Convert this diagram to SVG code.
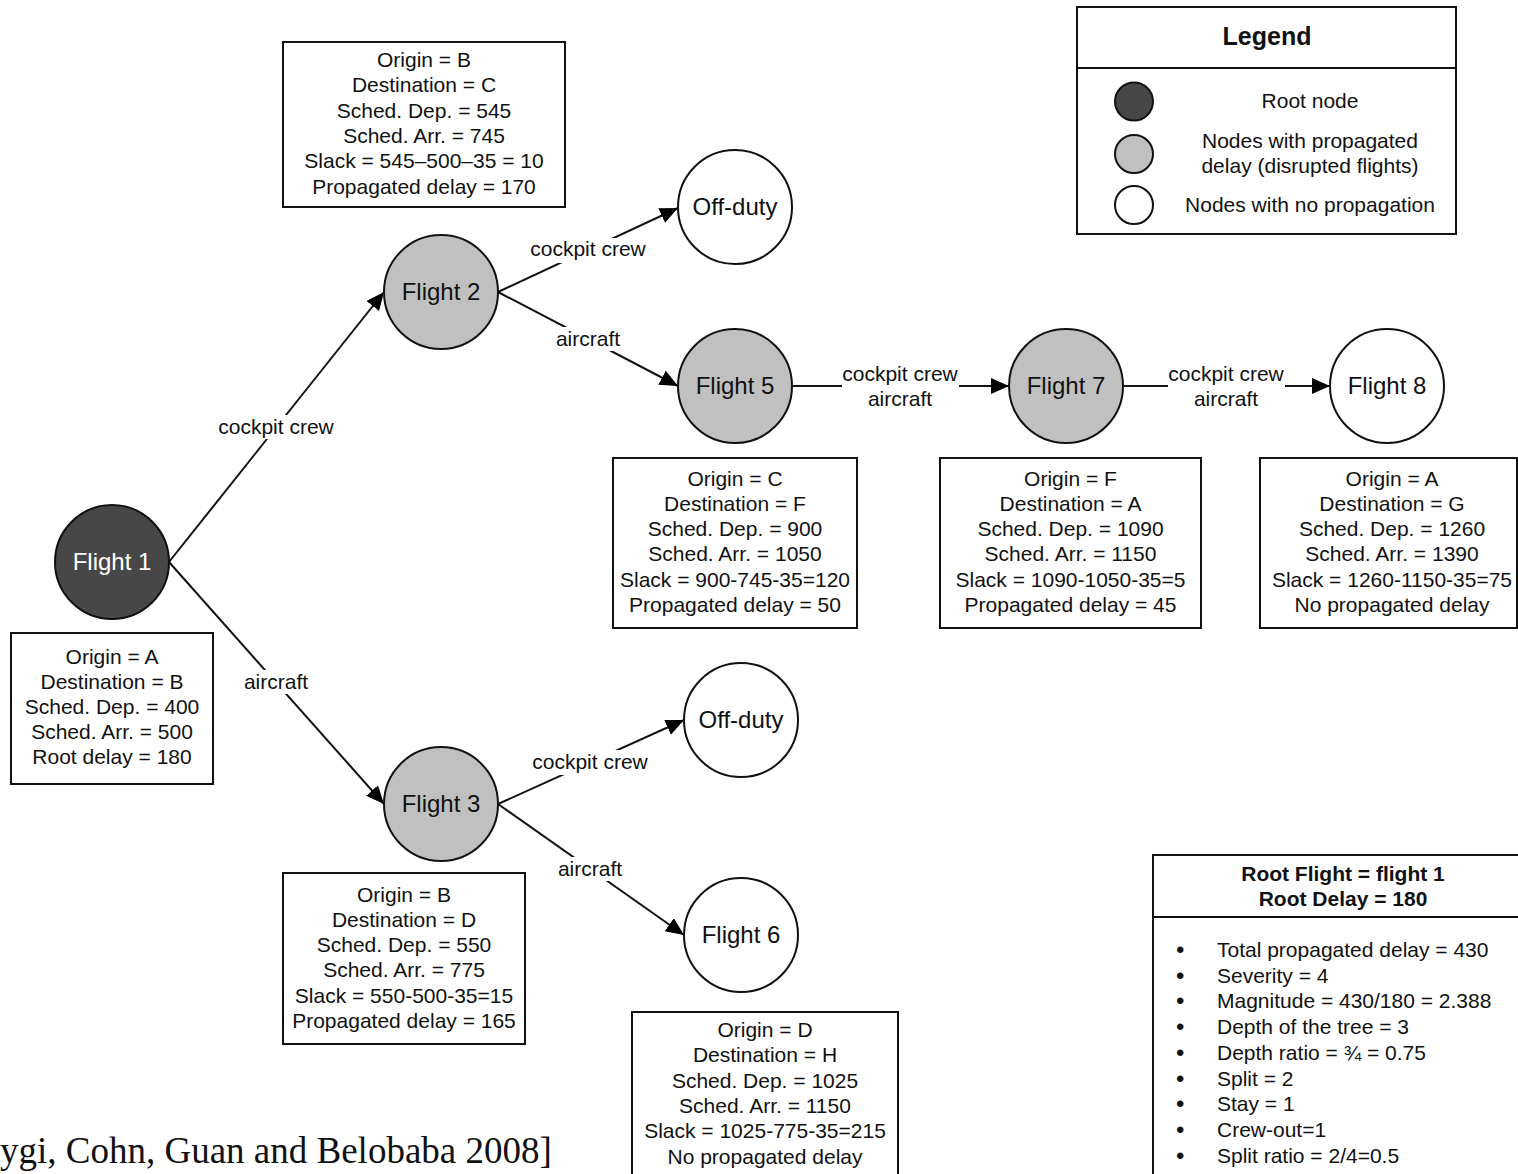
<svg xmlns="http://www.w3.org/2000/svg" width="1518" height="1174" viewBox="0 0 1518 1174">
  <defs>
    <marker id="arrow" markerUnits="userSpaceOnUse" markerWidth="20" markerHeight="18" refX="18" refY="8" orient="auto">
      <path d="M0,0 L18,8 L0,16 z" fill="#000"/>
    </marker>
    <style>
      text { font-family: "Liberation Sans", Arial, sans-serif; fill: #111; }
      .t { font-size: 21px; text-anchor: middle; }
      .nl { font-size: 24px; text-anchor: middle; }
      .b { font-weight: bold; }
      .box { fill: #fff; stroke: #111; stroke-width: 2; }
      .root { fill: #474747; stroke: #111; stroke-width: 2; }
      .prop { fill: #c0c0c0; stroke: #111; stroke-width: 2; }
      .none { fill: #fff; stroke: #111; stroke-width: 2; }
      .edge { stroke: #111; stroke-width: 2; fill: none; marker-end: url(#arrow); }
      .lbg { fill: #fff; }
      .bul { font-size: 24px; }
      .cite { font-family: "Liberation Serif", "Times New Roman", serif; font-size: 37px; fill: #111; }
    </style>
  </defs>
  <rect width="1518" height="1174" fill="#fff"/>

  <g id="connectors">
    <g id="e-f1-f2">
      <line class="edge" x1="169" y1="562" x2="384" y2="292"/>
      <rect class="lbg" x="218" y="415" width="118" height="24"/>
      <text class="t" x="276" y="433.5">cockpit crew</text>
    </g>
    <g id="e-f1-f3">
      <line class="edge" x1="169" y1="562" x2="384" y2="804"/>
      <rect class="lbg" x="243" y="670" width="67" height="24"/>
      <text class="t" x="276" y="688.5">aircraft</text>
    </g>
    <g id="e-f2-off1">
      <line class="edge" x1="498" y1="292" x2="678" y2="208"/>
      <rect class="lbg" x="529" y="238" width="118" height="25"/>
      <text class="t" x="588" y="255.5">cockpit crew</text>
    </g>
    <g id="e-f2-f5">
      <line class="edge" x1="498" y1="292" x2="678" y2="386"/>
      <rect class="lbg" x="554" y="327" width="68" height="24"/>
      <text class="t" x="588" y="345.5">aircraft</text>
    </g>
    <g id="e-f5-f7">
      <line class="edge" x1="792" y1="386" x2="1009" y2="386"/>
      <rect class="lbg" x="842" y="362" width="117" height="49"/>
      <text class="t" x="900" y="380.5">cockpit crew</text>
      <text class="t" x="900" y="405.5">aircraft</text>
    </g>
    <g id="e-f7-f8">
      <line class="edge" x1="1123" y1="386" x2="1330" y2="386"/>
      <rect class="lbg" x="1168" y="362" width="117" height="49"/>
      <text class="t" x="1226" y="380.5">cockpit crew</text>
      <text class="t" x="1226" y="405.5">aircraft</text>
    </g>
    <g id="e-f3-off2">
      <line class="edge" x1="498" y1="804" x2="684" y2="720"/>
      <rect class="lbg" x="531" y="750" width="118" height="25"/>
      <text class="t" x="590" y="768.5">cockpit crew</text>
    </g>
    <g id="e-f3-f6">
      <line class="edge" x1="498" y1="804" x2="684" y2="935"/>
      <rect class="lbg" x="556" y="857" width="68" height="24"/>
      <text class="t" x="590" y="875.5">aircraft</text>
    </g>
  </g>

  <g id="flight1">
    <circle class="root" cx="112" cy="562" r="57"/>
    <text class="nl" x="112" y="569.5" style="fill:#fff">Flight 1</text>
  </g>
  <g id="flight2">
    <circle class="prop" cx="441" cy="292" r="57"/>
    <text class="nl" x="441" y="299.5">Flight 2</text>
  </g>
  <g id="offduty1">
    <circle class="none" cx="735" cy="207" r="57"/>
    <text class="nl" x="735" y="214.5">Off-duty</text>
  </g>
  <g id="flight5">
    <circle class="prop" cx="735" cy="386" r="57"/>
    <text class="nl" x="735" y="393.5">Flight 5</text>
  </g>
  <g id="flight7">
    <circle class="prop" cx="1066" cy="386" r="57"/>
    <text class="nl" x="1066" y="393.5">Flight 7</text>
  </g>
  <g id="flight8">
    <circle class="none" cx="1387" cy="386" r="57"/>
    <text class="nl" x="1387" y="393.5">Flight 8</text>
  </g>
  <g id="flight3">
    <circle class="prop" cx="441" cy="804" r="57"/>
    <text class="nl" x="441" y="811.5">Flight 3</text>
  </g>
  <g id="offduty2">
    <circle class="none" cx="741" cy="720" r="57"/>
    <text class="nl" x="741" y="727.5">Off-duty</text>
  </g>
  <g id="flight6">
    <circle class="none" cx="741" cy="935" r="57"/>
    <text class="nl" x="741" y="942.5">Flight 6</text>
  </g>

  <g id="info-flight2">
    <rect class="box" x="283" y="42" width="282" height="165"/>
    <text class="t" x="424" y="67">Origin = B</text>
    <text class="t" x="424" y="92.3">Destination = C</text>
    <text class="t" x="424" y="117.6">Sched. Dep. = 545</text>
    <text class="t" x="424" y="142.9">Sched. Arr. = 745</text>
    <text class="t" x="424" y="168.2">Slack = 545–500–35 = 10</text>
    <text class="t" x="424" y="193.5">Propagated delay = 170</text>
  </g>
  <g id="info-flight1">
    <rect class="box" x="11" y="633" width="202" height="151"/>
    <text class="t" x="112" y="664">Origin = A</text>
    <text class="t" x="112" y="689">Destination = B</text>
    <text class="t" x="112" y="714">Sched. Dep. = 400</text>
    <text class="t" x="112" y="739">Sched. Arr. = 500</text>
    <text class="t" x="112" y="764">Root delay = 180</text>
  </g>
  <g id="info-flight5">
    <rect class="box" x="613" y="458" width="244" height="170"/>
    <text class="t" x="735" y="485.5">Origin = C</text>
    <text class="t" x="735" y="510.8">Destination = F</text>
    <text class="t" x="735" y="536.1">Sched. Dep. = 900</text>
    <text class="t" x="735" y="561.4">Sched. Arr. = 1050</text>
    <text class="t" x="735" y="586.7">Slack = 900-745-35=120</text>
    <text class="t" x="735" y="612">Propagated delay = 50</text>
  </g>
  <g id="info-flight7">
    <rect class="box" x="940" y="458" width="261" height="170"/>
    <text class="t" x="1070.5" y="485.5">Origin = F</text>
    <text class="t" x="1070.5" y="510.8">Destination = A</text>
    <text class="t" x="1070.5" y="536.1">Sched. Dep. = 1090</text>
    <text class="t" x="1070.5" y="561.4">Sched. Arr. = 1150</text>
    <text class="t" x="1070.5" y="586.7">Slack = 1090-1050-35=5</text>
    <text class="t" x="1070.5" y="612">Propagated delay = 45</text>
  </g>
  <g id="info-flight8">
    <rect class="box" x="1260" y="458" width="257" height="170"/>
    <text class="t" x="1392" y="485.5">Origin = A</text>
    <text class="t" x="1392" y="510.8">Destination = G</text>
    <text class="t" x="1392" y="536.1">Sched. Dep. = 1260</text>
    <text class="t" x="1392" y="561.4">Sched. Arr. = 1390</text>
    <text class="t" x="1392" y="586.7">Slack = 1260-1150-35=75</text>
    <text class="t" x="1392" y="612">No propagated delay</text>
  </g>
  <g id="info-flight3">
    <rect class="box" x="283" y="873" width="242" height="171"/>
    <text class="t" x="404" y="901.5">Origin = B</text>
    <text class="t" x="404" y="926.8">Destination = D</text>
    <text class="t" x="404" y="952.1">Sched. Dep. = 550</text>
    <text class="t" x="404" y="977.4">Sched. Arr. = 775</text>
    <text class="t" x="404" y="1002.7">Slack = 550-500-35=15</text>
    <text class="t" x="404" y="1028">Propagated delay = 165</text>
  </g>
  <g id="info-flight6">
    <rect class="box" x="632" y="1012" width="266" height="175"/>
    <text class="t" x="765" y="1037">Origin = D</text>
    <text class="t" x="765" y="1062.3">Destination = H</text>
    <text class="t" x="765" y="1087.6">Sched. Dep. = 1025</text>
    <text class="t" x="765" y="1112.9">Sched. Arr. = 1150</text>
    <text class="t" x="765" y="1138.2">Slack = 1025-775-35=215</text>
    <text class="t" x="765" y="1163.5">No propagated delay</text>
  </g>

  <g id="legend">
    <rect class="box" x="1077" y="7" width="379" height="227"/>
    <line x1="1077" y1="68" x2="1456" y2="68" stroke="#111" stroke-width="2"/>
    <text x="1267" y="45" class="b" style="font-size:25px;text-anchor:middle">Legend</text>
    <circle class="root" cx="1134" cy="101.5" r="19"/>
    <circle class="prop" cx="1134" cy="154" r="19"/>
    <circle class="none" cx="1134" cy="205" r="19"/>
    <text class="t" x="1310" y="107.5">Root node</text>
    <text class="t" x="1310" y="147.5">Nodes with propagated</text>
    <text class="t" x="1310" y="173">delay (disrupted flights)</text>
    <text class="t" x="1310" y="211.5">Nodes with no propagation</text>
  </g>

  <g id="summary">
    <rect class="box" x="1153" y="855" width="380" height="340"/>
    <line x1="1153" y1="917" x2="1533" y2="917" stroke="#111" stroke-width="2"/>
    <text class="t b" x="1343" y="881">Root Flight = flight 1</text>
    <text class="t b" x="1343" y="906">Root Delay = 180</text>
    <g style="font-size:21px">
      <text class="bul" x="1176" y="958">•</text><text x="1217" y="957">Total propagated delay = 430</text>
      <text class="bul" x="1176" y="983.7">•</text><text x="1217" y="982.7">Severity = 4</text>
      <text class="bul" x="1176" y="1009.4">•</text><text x="1217" y="1008.4">Magnitude = 430/180 = 2.388</text>
      <text class="bul" x="1176" y="1035.1">•</text><text x="1217" y="1034.1">Depth of the tree = 3</text>
      <text class="bul" x="1176" y="1060.8">•</text><text x="1217" y="1059.8">Depth ratio = ¾ = 0.75</text>
      <text class="bul" x="1176" y="1086.5">•</text><text x="1217" y="1085.5">Split = 2</text>
      <text class="bul" x="1176" y="1112.2">•</text><text x="1217" y="1111.2">Stay = 1</text>
      <text class="bul" x="1176" y="1137.9">•</text><text x="1217" y="1136.9">Crew-out=1</text>
      <text class="bul" x="1176" y="1163.6">•</text><text x="1217" y="1162.6">Split ratio = 2/4=0.5</text>
    </g>
  </g>

  <text class="cite" x="0" y="1163">ygi, Cohn, Guan and Belobaba 2008]</text>
</svg>
